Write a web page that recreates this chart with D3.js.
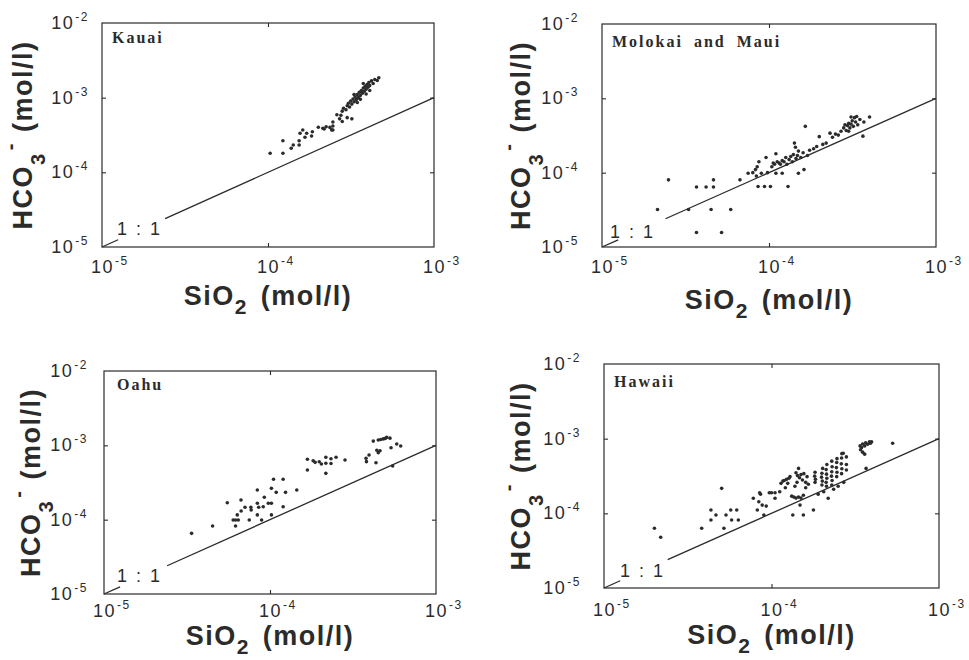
<!DOCTYPE html>
<html>
<head>
<meta charset="utf-8">
<script src="https://cdn.jsdelivr.net/npm/d3@7"></script>
<style>
  html, body { margin: 0; padding: 0; background: #ffffff; }
  svg { display: block; }
</style>
</head>
<body>
<script>
// ---------------- DATA (mol/l) ----------------
const islandNames = ["Kauai", "Molokai and Maui", "Oahu", "Hawaii"];
const xTickExps = [-5, -4, -3];       // SiO2 axis decades
const yTickExps = [-5, -4, -3, -2];   // HCO3- axis decades
const ratioLabel = "1 : 1";
const oneToOneSegments = [[1e-5, 1.25e-5], [2.4e-5, 1e-3]];

// [SiO2, HCO3-]
const kauai = [
  [1.03e-4,1.80e-4],[1.23e-4,1.80e-4],[1.23e-4,2.65e-4],[1.38e-4,2.10e-4],[1.42e-4,2.32e-4],
  [1.54e-4,2.32e-4],[1.54e-4,2.65e-4],[1.56e-4,3.33e-4],[1.62e-4,3.69e-4],[1.67e-4,2.95e-4],
  [1.71e-4,3.33e-4],[1.83e-4,3.07e-4],[1.85e-4,3.50e-4],[2.01e-4,4.01e-4],[2.14e-4,3.90e-4],
  [2.18e-4,3.80e-4],[2.24e-4,4.08e-4],[2.36e-4,4.00e-4],[2.42e-4,3.70e-4],[2.46e-4,4.72e-4],
  [2.46e-4,4.18e-4],[2.46e-4,3.69e-4],[2.60e-4,5.90e-4],[2.70e-4,5.20e-4],[2.80e-4,4.80e-4],
  [3.00e-4,5.40e-4],[3.20e-4,5.20e-4],[2.75e-4,5.80e-4],
  [2.80e-4,6.6e-4],[2.85e-4,7.2e-4],[2.95e-4,6.9e-4],[3.00e-4,7.8e-4],[3.05e-4,8.4e-4],
  [3.10e-4,7.5e-4],[3.15e-4,9.0e-4],[3.20e-4,8.2e-4],[3.25e-4,9.6e-4],[3.30e-4,8.8e-4],
  [3.35e-4,1.02e-3],[3.40e-4,9.4e-4],[3.45e-4,1.10e-3],[3.50e-4,1.00e-3],[3.55e-4,1.18e-3],
  [3.60e-4,1.07e-3],[3.65e-4,1.25e-3],[3.70e-4,1.15e-3],[3.75e-4,1.35e-3],[3.80e-4,1.22e-3],
  [3.85e-4,1.42e-3],[3.90e-4,1.30e-3],[3.95e-4,1.50e-3],[4.00e-4,1.38e-3],[4.05e-4,1.60e-3],
  [4.10e-4,1.45e-3],[4.20e-4,1.68e-3],[4.30e-4,1.55e-3],[4.40e-4,1.75e-3],[4.55e-4,1.70e-3],
  [4.65e-4,1.85e-3],[3.45e-4,8.6e-4],[3.60e-4,9.5e-4],[3.90e-4,1.12e-3],[4.10e-4,1.25e-3],
  [3.30e-4,1.10e-3],[3.75e-4,1.55e-3]
];

const molokaiMaui = [
  [2.15e-5,3.2e-5],[2.5e-5,8.0e-5],[3.3e-5,3.2e-5],[3.68e-5,6.4e-5],[3.68e-5,1.57e-5],
  [4.2e-5,6.4e-5],[4.5e-5,3.2e-5],[4.65e-5,8.0e-5],[4.65e-5,6.4e-5],[5.2e-5,1.57e-5],
  [5.9e-5,3.2e-5],[6.7e-5,8.0e-5],
  [7.5e-5,9.8e-5],[8.0e-5,1.0e-4],[8.3e-5,1.1e-4],[8.5e-5,1.2e-4],[8.7e-5,1.4e-4],[8.4e-5,9.0e-5],
  [8.6e-5,6.5e-5],[9.0e-5,9.8e-5],[9.4e-5,6.5e-5],[9.6e-5,1.6e-4],[9.8e-5,1.0e-4],[1.02e-4,6.5e-5],
  [1.04e-4,1.2e-4],[1.06e-4,1.35e-4],[1.08e-4,1.3e-4],[1.1e-4,1.8e-4],[1.1e-4,9.8e-5],[1.12e-4,1.4e-4],
  [1.15e-4,1.35e-4],[1.17e-4,1.3e-4],[1.2e-4,1.45e-4],[1.2e-4,9.8e-5],[1.23e-4,1.4e-4],[1.26e-4,1.6e-4],
  [1.28e-4,1.3e-4],[1.3e-4,6.5e-5],[1.32e-4,1.5e-4],[1.35e-4,1.65e-4],[1.38e-4,1.4e-4],[1.4e-4,1.75e-4],
  [1.42e-4,2.5e-4],[1.44e-4,2.2e-4],[1.45e-4,1.55e-4],[1.48e-4,1.7e-4],[1.5e-4,1.95e-4],[1.5e-4,9.8e-5],
  [1.55e-4,1.6e-4],[1.6e-4,1.85e-4],[1.62e-4,1.1e-4],[1.65e-4,4.2e-4],[1.7e-4,1.7e-4],[1.75e-4,2.0e-4],
  [1.85e-4,2.1e-4],[1.93e-4,2.25e-4],[2.0e-4,3.05e-4],[2.1e-4,2.4e-4],[2.2e-4,2.5e-4],[2.32e-4,3.4e-4],
  [2.4e-4,3.0e-4],[2.5e-4,3.3e-4],[2.6e-4,3.2e-4],[2.7e-4,3.6e-4],[2.8e-4,4.0e-4],[2.9e-4,3.7e-4],
  [2.95e-4,4.3e-4],[3.0e-4,4.6e-4],[3.05e-4,4.0e-4],[3.1e-4,4.5e-4],[3.15e-4,5.0e-4],[3.2e-4,4.2e-4],
  [3.25e-4,5.5e-4],[3.3e-4,4.8e-4],[3.35e-4,5.7e-4],[3.4e-4,4.4e-4],[3.5e-4,5.2e-4],[3.65e-4,3.1e-4],
  [3.7e-4,4.8e-4],[4.0e-4,5.6e-4],[3.0e-4,3.6e-4],[2.85e-4,4.4e-4],[3.1e-4,5.6e-4]
];

const oahu = [
  [3.37e-5,6.55e-5],[4.51e-5,8.22e-5],[5.53e-5,1.69e-4],[6.0e-5,9.9e-5],[6.2e-5,9.9e-5],
  [6.44e-5,9.9e-5],[6.2e-5,8.22e-5],[6.35e-5,1.16e-4],[6.69e-5,1.84e-4],[6.7e-5,1.31e-4],
  [7.07e-5,1.47e-4],[7.5e-5,9.9e-5],[7.67e-5,1.47e-4],[7.7e-5,1.35e-4],[8.39e-5,2.51e-4],
  [8.39e-5,1.66e-4],[8.39e-5,1.16e-4],[8.55e-5,1.47e-4],[8.9e-5,9.9e-5],[9.24e-5,2.0e-4],
  [9.1e-5,1.49e-4],[9.77e-5,1.66e-4],[1.02e-4,1.66e-4],[1.02e-4,2.64e-4],[1.02e-4,1.16e-4],
  [1.05e-4,3.49e-4],[1.09e-4,2.33e-4],[1.2e-4,3.49e-4],[1.2e-4,1.49e-4],[1.24e-4,2.33e-4],
  [1.45e-4,2.51e-4],[1.68e-4,6.49e-4],[1.68e-4,4.66e-4],[1.82e-4,6.2e-4],[1.87e-4,5.9e-4],
  [1.98e-4,6.0e-4],[2.04e-4,5.6e-4],[2.17e-4,6.9e-4],[2.17e-4,5.73e-4],[2.17e-4,4.2e-4],
  [2.33e-4,6.6e-4],[2.33e-4,5.7e-4],[2.5e-4,6.9e-4],[2.83e-4,6.35e-4],[3.79e-4,6.68e-4],
  [3.81e-4,6.03e-4],[3.95e-4,7.41e-4],[4.19e-4,1.14e-3],[4.49e-4,1.18e-3],[4.82e-4,1.22e-3],
  [5.05e-4,1.28e-3],[5.28e-4,1.25e-3],[4.65e-4,1.2e-3],[4.95e-4,1.24e-3],[4.35e-4,5.84e-4],
  [4.49e-4,7.96e-4],[4.6e-4,8.47e-4],[4.4e-4,8.6e-4],[5.36e-4,9.3e-4],[5.8e-4,1.04e-3],
  [6.13e-4,9.8e-4],[5.48e-4,5.27e-4]
];

const hawaii = [
  [2.0e-5,6.3e-5],[2.18e-5,4.78e-5],[3.83e-5,6.3e-5],[4.35e-5,1.11e-4],[4.35e-5,8.15e-5],
  [4.66e-5,9.5e-5],[5.04e-5,2.16e-4],[5.2e-5,6.3e-5],[5.35e-5,9.5e-5],[5.71e-5,1.11e-4],
  [5.78e-5,8.15e-5],[6.34e-5,8.15e-5],[6.2e-5,1.11e-4],[7.79e-5,1.59e-4],[8.23e-5,1.11e-4],
  [8.5e-5,1.89e-4],[8.6e-5,1.8e-4],[8.4e-5,1.43e-4],[8.8e-5,1.29e-4],[9.0e-5,9.5e-5],
  [9.3e-5,1.25e-4],[9.7e-5,1.89e-4],[1.0e-4,1.89e-4],[1.05e-4,1.89e-4],[1.05e-4,1.59e-4],
  [1.12e-4,1.95e-4],[1.14e-4,2.52e-4],[1.17e-4,2.7e-4],[1.19e-4,2.75e-4],[1.21e-4,2.2e-4],
  [1.23e-4,2.85e-4],[1.25e-4,2.52e-4],[1.27e-4,2.95e-4],[1.29e-4,3.1e-4],[1.34e-4,9.5e-5],
  [1.55e-4,9.5e-5],[1.45e-4,4.0e-4],[1.48e-4,1.29e-4],[1.32e-4,1.7e-4],[1.36e-4,1.65e-4],
  [1.4e-4,1.6e-4],[1.45e-4,1.65e-4],[1.5e-4,1.6e-4],[1.55e-4,1.75e-4],
  [1.4e-4,3.5e-4],[1.43e-4,3.2e-4],[1.47e-4,3.0e-4],[1.5e-4,3.3e-4],[1.53e-4,2.8e-4],
  [1.56e-4,3.4e-4],[1.6e-4,2.6e-4],[1.63e-4,3.1e-4],[1.66e-4,2.45e-4],[1.42e-4,2.6e-4],
  [1.38e-4,2.3e-4],[1.6e-4,2.2e-4],[1.78e-4,1.11e-4],
  [1.82e-4,2.6e-4],[1.83e-4,2.85e-4],[1.81e-4,3.15e-4],[1.82e-4,3.55e-4],
  [2.0e-4,2.4e-4],[2.01e-4,2.7e-4],[1.99e-4,3.05e-4],[2.0e-4,3.45e-4],[2.02e-4,4.0e-4],
  [2.13e-4,2.3e-4],[2.12e-4,2.6e-4],[2.14e-4,2.95e-4],[2.13e-4,3.35e-4],[2.12e-4,3.85e-4],[2.14e-4,4.5e-4],
  [2.29e-4,2.4e-4],[2.3e-4,2.75e-4],[2.28e-4,3.15e-4],[2.29e-4,3.6e-4],[2.3e-4,4.2e-4],[2.29e-4,5.0e-4],
  [2.45e-4,3.1e-4],[2.46e-4,3.55e-4],[2.44e-4,4.1e-4],[2.45e-4,4.8e-4],[2.46e-4,5.4e-4],
  [2.62e-4,3.4e-4],[2.63e-4,3.95e-4],[2.61e-4,4.6e-4],[2.62e-4,5.5e-4],[2.63e-4,6.3e-4],
  [2.8e-4,3.8e-4],[2.8e-4,4.5e-4],[2.8e-4,5.7e-4],
  [1.9e-4,1.8e-4],[2.05e-4,1.95e-4],[2.18e-4,1.59e-4],[2.35e-4,2.1e-4],[2.5e-4,2.3e-4],[2.7e-4,2.6e-4],
  [3.38e-4,8.0e-4],[3.45e-4,7.6e-4],[3.5e-4,8.5e-4],[3.6e-4,8.0e-4],[3.65e-4,8.8e-4],[3.75e-4,8.4e-4],
  [3.85e-4,9.1e-4],[3.9e-4,8.7e-4],[3.96e-4,9.1e-4],[3.4e-4,7.1e-4],[3.6e-4,6.2e-4],[3.5e-4,6.6e-4],
  [3.67e-4,4.0e-4],[5.29e-4,8.67e-4],[2.68e-4,6.37e-4]
];

const islandData = [kauai, molokaiMaui, oahu, hawaii];

// ---------------- LAYOUT ----------------
const layout = [
  { l: 102, r: 434, t: 23,  b: 247, yTitle: 70, yLabGap: 13, xLab: 26, xTitle: 58, nameDx: 10, nameDy: 20, ratDx: 15, ratDy: 12 },
  { l: 602, r: 936, t: 24,  b: 247, yTitle: 72, yLabGap: 23, xLab: 26, xTitle: 62, nameDx: 10, nameDy: 23, ratDx: 8,  ratDy: 9 },
  { l: 104, r: 436, t: 371, b: 594, yTitle: 64, yLabGap: 16, xLab: 23, xTitle: 51, nameDx: 13, nameDy: 19, ratDx: 13, ratDy: 12 },
  { l: 604, r: 939, t: 364, b: 588, yTitle: 74, yLabGap: 23, xLab: 28, xTitle: 56, nameDx: 10, nameDy: 23, ratDx: 16, ratDy: 11 }
];

const SANS = "'Liberation Sans', Arial, Helvetica, sans-serif";
const SERIF = "'Liberation Serif', 'Times New Roman', serif";
const INK = "#2b2b2b";

const svg = d3.select("body").append("svg")
  .attr("width", 969).attr("height", 660)
  .style("background", "#fff");

function expLabel(sel, e) {
  sel.append("tspan").text("10");
  sel.append("tspan").attr("font-size", 12).attr("dy", -8).attr("dx", 1).text("-" + Math.abs(e));
}

islandData.forEach((data, i) => {
  const p = layout[i];
  const x = d3.scaleLog().domain([1e-5, 1e-3]).range([p.l, p.r]);
  const y = d3.scaleLog().domain([1e-5, 1e-2]).range([p.b, p.t]);
  const g = svg.append("g");

  // inward decade ticks on all four sides
  const xv = xTickExps.map(e => Math.pow(10, e)).slice(1, -1);
  const yv = yTickExps.map(e => Math.pow(10, e)).slice(1, -1);
  const tickStyle = a => a.selectAll(".domain").remove();
  g.append("g").attr("transform", `translate(0,${p.b})`)
    .call(d3.axisBottom(x).tickValues(xv).tickSize(-4).tickFormat("")).call(tickStyle);
  g.append("g").attr("transform", `translate(0,${p.t})`)
    .call(d3.axisTop(x).tickValues(xv).tickSize(-4).tickFormat("")).call(tickStyle);
  g.append("g").attr("transform", `translate(${p.l},0)`)
    .call(d3.axisLeft(y).tickValues(yv).tickSize(-4).tickFormat("")).call(tickStyle);
  g.append("g").attr("transform", `translate(${p.r},0)`)
    .call(d3.axisRight(y).tickValues(yv).tickSize(-4).tickFormat("")).call(tickStyle);
  g.selectAll(".tick line").attr("stroke", INK).attr("stroke-width", 1.1);

  // frame
  g.append("rect")
    .attr("x", p.l).attr("y", p.t).attr("width", p.r - p.l).attr("height", p.b - p.t)
    .attr("fill", "none").attr("stroke", INK).attr("stroke-width", 1.2);

  // 1:1 line
  const line = d3.line().x(d => x(d)).y(d => y(d));
  oneToOneSegments.forEach(seg => {
    g.append("path").attr("d", line(seg)).attr("fill", "none")
      .attr("stroke", INK).attr("stroke-width", 1.3);
  });

  // points
  g.selectAll("circle.pt").data(data).enter().append("circle")
    .attr("class", "pt")
    .attr("cx", d => x(d[0])).attr("cy", d => y(d[1]))
    .attr("r", 1.8).attr("fill", INK);

  // x tick labels
  xTickExps.forEach(e => {
    const t = g.append("text")
      .attr("x", x(Math.pow(10, e)) - 11).attr("y", p.b + p.xLab)
      .attr("font-family", SANS).attr("font-size", 18).attr("letter-spacing", 1.5)
      .attr("fill", INK);
    expLabel(t, e);
  });
  // y tick labels
  yTickExps.forEach(e => {
    const t = g.append("text")
      .attr("x", p.l - p.yLabGap).attr("y", y(Math.pow(10, e)) + 6)
      .attr("text-anchor", "end")
      .attr("font-family", SANS).attr("font-size", 18).attr("letter-spacing", 1.5)
      .attr("fill", INK);
    expLabel(t, e);
  });

  // x axis title
  const xt = g.append("text")
    .attr("x", (p.l + p.r) / 2).attr("y", p.b + p.xTitle)
    .attr("text-anchor", "middle")
    .attr("font-family", SANS).attr("font-weight", "bold").attr("font-size", 27)
    .attr("letter-spacing", 1.5).attr("fill", INK);
  xt.append("tspan").text("SiO");
  xt.append("tspan").attr("font-size", 21).attr("dy", 9).text("2");
  xt.append("tspan").attr("dy", -9).attr("dx", 13).text("(mol/l)");

  // y axis title
  const yt = g.append("text")
    .attr("transform", `translate(${p.l - p.yTitle},${(p.t + p.b) / 2}) rotate(-90)`)
    .attr("text-anchor", "middle")
    .attr("font-family", SANS).attr("font-weight", "bold").attr("font-size", 27)
    .attr("letter-spacing", 1.5).attr("fill", INK);
  yt.append("tspan").text("HCO");
  yt.append("tspan").attr("font-size", 20).attr("dy", 13).text("3");
  yt.append("tspan").attr("font-size", 20).attr("dy", -28).attr("dx", 2).text("-");
  yt.append("tspan").attr("dy", 15).attr("dx", 10).text("(mol/l)");

  // island name
  g.append("text")
    .attr("x", p.l + p.nameDx).attr("y", p.t + p.nameDy)
    .attr("font-family", SERIF).attr("font-weight", "bold").attr("font-size", 16)
    .attr("letter-spacing", 2).attr("word-spacing", 5).attr("fill", INK)
    .text(islandNames[i]);

  // 1:1 label
  g.append("text")
    .attr("x", p.l + p.ratDx).attr("y", p.b - p.ratDy)
    .attr("font-family", SANS).attr("font-size", 18).attr("letter-spacing", 2)
    .attr("fill", INK)
    .text(ratioLabel);
});
</script>
</body>
</html>
